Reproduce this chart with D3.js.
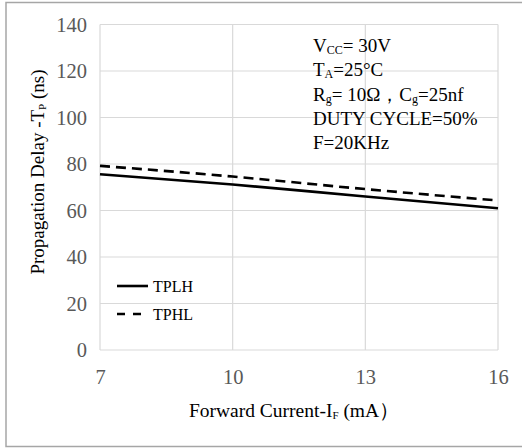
<!DOCTYPE html>
<html>
<head>
<meta charset="utf-8">
<script src="https://cdn.jsdelivr.net/npm/d3@7"></script>
<style>
  body { margin: 0; background: #fff; }
</style>
</head>
<body>
<svg width="522" height="448"></svg>
<script>
// forward current (mA) and propagation delay (ns)
const current = [7, 10, 13, 16];
const tplh = [75.6, 71.2, 66.0, 61.0];
const tphl = [79.2, 74.6, 69.2, 64.3];
const yTicks = [0, 20, 40, 60, 80, 100, 120, 140];
const notes = ["V|CC|= 30V", "T|A|=25°C", "R|g|= 10Ω，C|g|=25nf", "DUTY CYCLE=50%", "F=20KHz"];

const svg = d3.select("svg");
const serif = "'Liberation Serif', 'DejaVu Serif', serif";

// outer frame
svg.append("rect")
  .attr("x", 6).attr("y", 2.5)
  .attr("width", 530).attr("height", 444)
  .attr("fill", "none").attr("stroke", "#a6a6a6").attr("stroke-width", 1.5);

const xScale = d3.scaleLinear().domain([7, 16]).range([100, 498]);
const yScale = d3.scaleLinear().domain([0, 140]).range([350, 24.5]);

// grid
const grid = svg.append("g");
grid.selectAll(".hg").data(yTicks).join("line")
  .attr("x1", 100).attr("x2", 498)
  .attr("y1", d => yScale(d)).attr("y2", d => yScale(d))
  .attr("stroke", "#d9d9d9").attr("stroke-width", 1.2);
grid.selectAll(".vg").data(current).join("line")
  .attr("x1", d => xScale(d)).attr("x2", d => xScale(d))
  .attr("y1", yScale(0)).attr("y2", yScale(140))
  .attr("stroke", "#d9d9d9").attr("stroke-width", 1.2);

// axes (labels only)
const yAxis = svg.append("g")
  .attr("transform", "translate(100,0)")
  .call(d3.axisLeft(yScale).tickValues(yTicks).tickSize(0).tickPadding(13));
const xAxis = svg.append("g")
  .attr("transform", "translate(0,350)")
  .call(d3.axisBottom(xScale).tickValues(current).tickSize(0).tickPadding(19));
[xAxis, yAxis].forEach(a => {
  a.select(".domain").remove();
  a.selectAll("text").attr("font-family", serif).attr("font-size", 20.5).attr("fill", "#595959");
});

// lines
const line = d3.line()
  .x((d, i) => xScale(current[i]))
  .y(d => yScale(d))
  .curve(d3.curveMonotoneX);
svg.append("path").datum(tplh)
  .attr("d", line).attr("fill", "none")
  .attr("stroke", "#000").attr("stroke-width", 2.6);
svg.append("path").datum(tphl)
  .attr("d", line).attr("fill", "none")
  .attr("stroke", "#000").attr("stroke-width", 2.6)
  .attr("stroke-dasharray", "10,6");

// legend
const legend = [
  {name: "TPLH", dash: null, y: 286},
  {name: "TPHL", dash: "8,8", y: 314}
];
const lg = svg.selectAll(".leg").data(legend).join("g");
lg.append("line")
  .attr("x1", 117).attr("x2", 148)
  .attr("y1", d => d.y).attr("y2", d => d.y)
  .attr("stroke", "#000").attr("stroke-width", 2.6)
  .attr("stroke-dasharray", d => d.dash);
lg.append("text")
  .attr("x", 153).attr("y", d => d.y + 6)
  .attr("font-family", serif).attr("font-size", 16)
  .text(d => d.name);

// conditions note, subscripts marked with |..|
const nt = svg.append("g");
notes.forEach((s, i) => {
  const t = nt.append("text")
    .attr("x", 313).attr("y", 52 + i * 24.3)
    .attr("font-family", serif).attr("font-size", 19).attr("fill", "#000");
  s.split("|").forEach((part, k) => {
    if (!part) return;
    const ts = t.append("tspan").text(part);
    if (k % 2 === 1) ts.attr("font-size", 12).attr("dy", 2);
    else if (k > 0) ts.attr("dy", -2);
  });
});

// axis titles
const xt = svg.append("text")
  .attr("x", 294).attr("y", 417)
  .attr("text-anchor", "middle")
  .attr("font-family", serif).attr("font-size", 19.5).attr("fill", "#000");
xt.append("tspan").text("Forward Current-I");
xt.append("tspan").text("F").attr("font-size", 11).attr("dy", 2);
xt.append("tspan").text(" (mA）").attr("dy", -2);

const yt = svg.append("text")
  .attr("transform", "translate(44,172) rotate(-90)")
  .attr("text-anchor", "middle")
  .attr("font-family", serif).attr("font-size", 19).attr("fill", "#000");
yt.append("tspan").text("Propagation Delay -T");
yt.append("tspan").text("P").attr("font-size", 11).attr("dy", 2);
yt.append("tspan").text(" (ns)").attr("dy", -2);
</script>
</body>
</html>
